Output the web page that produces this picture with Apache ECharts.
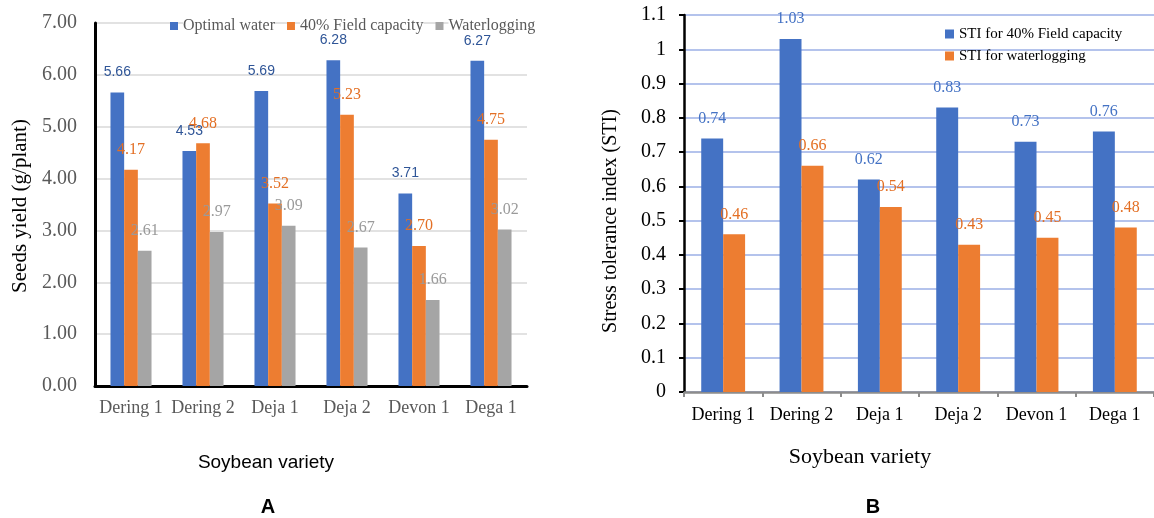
<!DOCTYPE html>
<html>
<head>
<meta charset="utf-8">
<script src="https://cdn.jsdelivr.net/npm/echarts@6/dist/echarts.min.js"></script>
<style>
  html, body { margin: 0; padding: 0; background: #ffffff; }
  #chart { width: 1154px; height: 518px; }
</style>
</head>
<body>
<div id="chart"></div>
<script>
// ---- Data ----
const categories = ['Dering 1', 'Dering 2', 'Deja 1', 'Deja 2', 'Devon 1', 'Dega 1'];
// Panel A: seeds yield (g/plant)
const optimalWater = [5.66, 4.53, 5.69, 6.28, 3.71, 6.27];
const fieldCapacity40 = [4.17, 4.68, 3.52, 5.23, 2.70, 4.75];
const waterlogging = [2.61, 2.97, 3.09, 2.67, 1.66, 3.02];
// Panel B: stress tolerance index
const stiFieldCapacity = [0.74, 1.03, 0.62, 0.83, 0.73, 0.76];
const stiWaterlogging = [0.46, 0.66, 0.54, 0.43, 0.45, 0.48];
// Series names
const namesA = ['Optimal water', '40% Field capacity', 'Waterlogging'];
const namesB = ['STI for 40% Field capacity', 'STI for waterlogging'];

const SERIF = "'Liberation Serif', 'Times New Roman', serif";
const SANS = "'Liberation Sans', Arial, sans-serif";
const BLUE = '#4472C4', ORANGE = '#ED7D31', GRAY = '#A5A5A5';

const chart = echarts.init(document.getElementById('chart'), null, { renderer: 'canvas' });

function barLabel(color, family, size, dist) {
  return {
    show: true, position: 'top', distance: dist,
    color: color, fontFamily: family, fontSize: size,
    formatter: p => Number(p.value).toFixed(2)
  };
}

const option = {
  backgroundColor: '#ffffff',
  animation: false,
  grid: [
    { left: 95, top: 23, width: 432, height: 363, containLabel: false },
    { left: 684, top: 15, width: 470, height: 377, containLabel: false }
  ],
  legend: [
    {
      data: namesA, left: 165, top: 13, orient: 'horizontal',
      itemWidth: 8, itemHeight: 8, itemGap: 12, icon: 'rect', selectedMode: false,
      textStyle: { fontFamily: SERIF, fontSize: 16, color: '#595959', backgroundColor: '#ffffff' }
    },
    {
      data: namesB, left: 940, top: 21, orient: 'vertical',
      itemWidth: 9, itemHeight: 9, itemGap: 6, icon: 'rect', selectedMode: false,
      textStyle: { fontFamily: SERIF, fontSize: 15, color: '#000000', lineHeight: 16 }
    }
  ],
  xAxis: [
    {
      type: 'category', gridIndex: 0, data: categories,
      axisLine: { lineStyle: { color: '#000000', width: 3 } },
      axisTick: { show: false },
      axisLabel: { interval: 0, color: '#595959', fontFamily: SERIF, fontSize: 18, margin: 13 }
    },
    {
      type: 'category', gridIndex: 1, data: categories,
      axisLine: { lineStyle: { color: '#8C8C8C', width: 2.5 } },
      axisTick: { show: true, interval: 0, length: 5, lineStyle: { color: '#8C8C8C', width: 2 } },
      axisLabel: { interval: 0, color: '#000000', fontFamily: SERIF, fontSize: 18, margin: 14 }
    }
  ],
  yAxis: [
    {
      type: 'value', gridIndex: 0, min: 0, max: 7, interval: 1,
      axisLine: { show: true, lineStyle: { color: '#000000', width: 3 } },
      axisTick: { show: false },
      splitLine: { lineStyle: { color: '#D9D9D9', width: 1.5 } },
      axisLabel: { color: '#595959', fontFamily: SERIF, fontSize: 20, margin: 18,
                   formatter: v => v.toFixed(2) }
    },
    {
      type: 'value', gridIndex: 1, min: 0, max: 1.1, interval: 0.1,
      axisLine: { show: true, lineStyle: { color: '#000000', width: 2.5 } },
      axisTick: { show: true, length: 5, lineStyle: { color: '#000000', width: 2 } },
      splitLine: { lineStyle: { color: '#B4C3EC', width: 2 } },
      axisLabel: { color: '#000000', fontFamily: SERIF, fontSize: 20, margin: 18,
                   formatter: v => String(Math.round(v * 10) / 10) }
    }
  ],
  series: [
    {
      name: namesA[0], type: 'bar', xAxisIndex: 0, yAxisIndex: 0, data: optimalWater,
      barGap: '0%', barCategoryGap: '43%', itemStyle: { color: BLUE },
      label: barLabel('#2F5597', SANS, 14, 13)
    },
    {
      name: namesA[1], type: 'bar', xAxisIndex: 0, yAxisIndex: 0, data: fieldCapacity40,
      barGap: '0%', barCategoryGap: '43%', itemStyle: { color: ORANGE },
      label: barLabel('#E36F24', SERIF, 16, 12)
    },
    {
      name: namesA[2], type: 'bar', xAxisIndex: 0, yAxisIndex: 0, data: waterlogging,
      barGap: '0%', barCategoryGap: '43%', itemStyle: { color: GRAY },
      label: barLabel('#9A9A9A', SERIF, 16, 12)
    },
    {
      name: namesB[0], type: 'bar', xAxisIndex: 1, yAxisIndex: 1, data: stiFieldCapacity,
      barGap: '0%', barCategoryGap: '44%', itemStyle: { color: BLUE },
      label: barLabel('#4472C4', SERIF, 16, 12)
    },
    {
      name: namesB[1], type: 'bar', xAxisIndex: 1, yAxisIndex: 1, data: stiWaterlogging,
      barGap: '0%', barCategoryGap: '44%', itemStyle: { color: ORANGE },
      label: barLabel('#E36F24', SERIF, 16, 12)
    }
  ],
  graphic: [
    { type: 'text', x: 20, y: 206, rotation: Math.PI / 2,
      style: { text: 'Seeds yield (g/plant)', font: "21px 'Liberation Serif', serif", fill: '#000000', align: 'center', verticalAlign: 'middle' } },
    { type: 'text', x: 266, y: 463,
      style: { text: 'Soybean variety', font: "19px 'Liberation Sans', sans-serif", fill: '#000000', align: 'center', verticalAlign: 'middle' } },
    { type: 'text', x: 268, y: 507,
      style: { text: 'A', font: "bold 20px 'Liberation Sans', sans-serif", fill: '#000000', align: 'center', verticalAlign: 'middle' } },
    { type: 'text', x: 611, y: 221, rotation: Math.PI / 2,
      style: { text: 'Stress tolerance index (STI)', font: "20px 'Liberation Serif', serif", fill: '#000000', align: 'center', verticalAlign: 'middle' } },
    { type: 'text', x: 860, y: 457,
      style: { text: 'Soybean variety', font: "22px 'Liberation Serif', serif", fill: '#000000', align: 'center', verticalAlign: 'middle' } },
    { type: 'text', x: 873, y: 507,
      style: { text: 'B', font: "bold 20px 'Liberation Sans', sans-serif", fill: '#000000', align: 'center', verticalAlign: 'middle' } }
  ]
};

chart.setOption(option);
</script>
</body>
</html>
